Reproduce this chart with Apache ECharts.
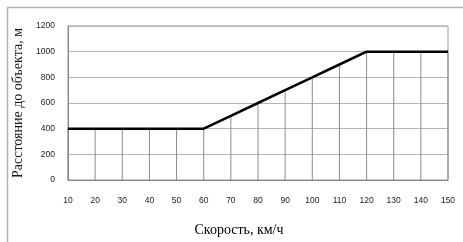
<!DOCTYPE html>
<html>
<head>
<meta charset="utf-8">
<script src="https://cdn.jsdelivr.net/npm/echarts@6/dist/echarts.min.js"></script>
<style>
  html, body { margin: 0; padding: 0; background: #fff; }
  #chart { width: 463px; height: 242px; }
</style>
</head>
<body>
<div id="chart"></div>
<script>
// скорость, км/ч
const speeds = ['10', '20', '30', '40', '50', '60', '70', '80', '90', '100', '110', '120', '130', '140', '150'];
// расстояние до объекта, м
const distances = [400, 400, 400, 400, 400, 400, 500, 600, 700, 800, 900, 1000, 1000, 1000, 1000];
const yTicks = [0, 200, 400, 600, 800, 1000, 1200];

const myChart = echarts.init(document.getElementById('chart'));

const option = {
  animation: false,
  backgroundColor: '#fff',
  graphic: [{
    type: 'rect',
    shape: { x: 7.5, y: 7.5, width: 480, height: 260 },
    style: { fill: 'none', stroke: '#b4b4b4', lineWidth: 1.5 },
    silent: true
  }],
  grid: {
    left: 68, right: 15, top: 26, bottom: 54,
    show: true,
    borderColor: '#9a9a9a',
    borderWidth: 1
  },
  xAxis: {
    type: 'category',
    data: speeds,
    boundaryGap: false,
    name: 'Скорость, км/ч',
    nameLocation: 'middle',
    nameGap: 43,
    nameTextStyle: { fontFamily: 'Liberation Serif', fontSize: 14, color: '#000', padding: [0, 38, 0, 0] },
    axisTick: { show: false },
    axisLine: { lineStyle: { color: '#868686', width: 1 } },
    axisLabel: { fontFamily: 'Liberation Sans', fontSize: 8.5, color: '#222', margin: 16, interval: 0 },
    splitLine: { show: false }
  },
  yAxis: {
    type: 'value',
    min: yTicks[0],
    max: yTicks[yTicks.length - 1],
    interval: 200,
    name: 'Расстояние до объекта, м',
    nameLocation: 'middle',
    nameGap: 36,
    nameTextStyle: { fontFamily: 'Liberation Serif', fontSize: 14, color: '#1a1a1a' },
    axisLine: { show: true, lineStyle: { color: '#868686', width: 1 } },
    axisTick: { show: false },
    axisLabel: {
      fontFamily: 'Liberation Sans', fontSize: 8.5, color: '#222', margin: 13,
      formatter: function (v) { return String(v); }
    },
    splitLine: { lineStyle: { color: '#b4b4b4', width: 1 } }
  },
  series: [
    {
      // линии проекции от точки до оси
      type: 'custom',
      z: 1,
      data: distances.map((v, i) => [i, v]),
      renderItem: function (params, api) {
        const top = api.coord([api.value(0), api.value(1)]);
        const bottom = api.coord([api.value(0), 0]);
        return {
          type: 'line',
          shape: { x1: top[0], y1: top[1], x2: bottom[0], y2: bottom[1] },
          style: { stroke: '#8c8c8c', lineWidth: 1 }
        };
      }
    },
    {
      type: 'line',
      z: 3,
      data: distances,
      symbol: 'none',
      lineStyle: { color: '#000', width: 2.5 }
    }
  ]
};

myChart.setOption(option);
</script>
</body>
</html>
